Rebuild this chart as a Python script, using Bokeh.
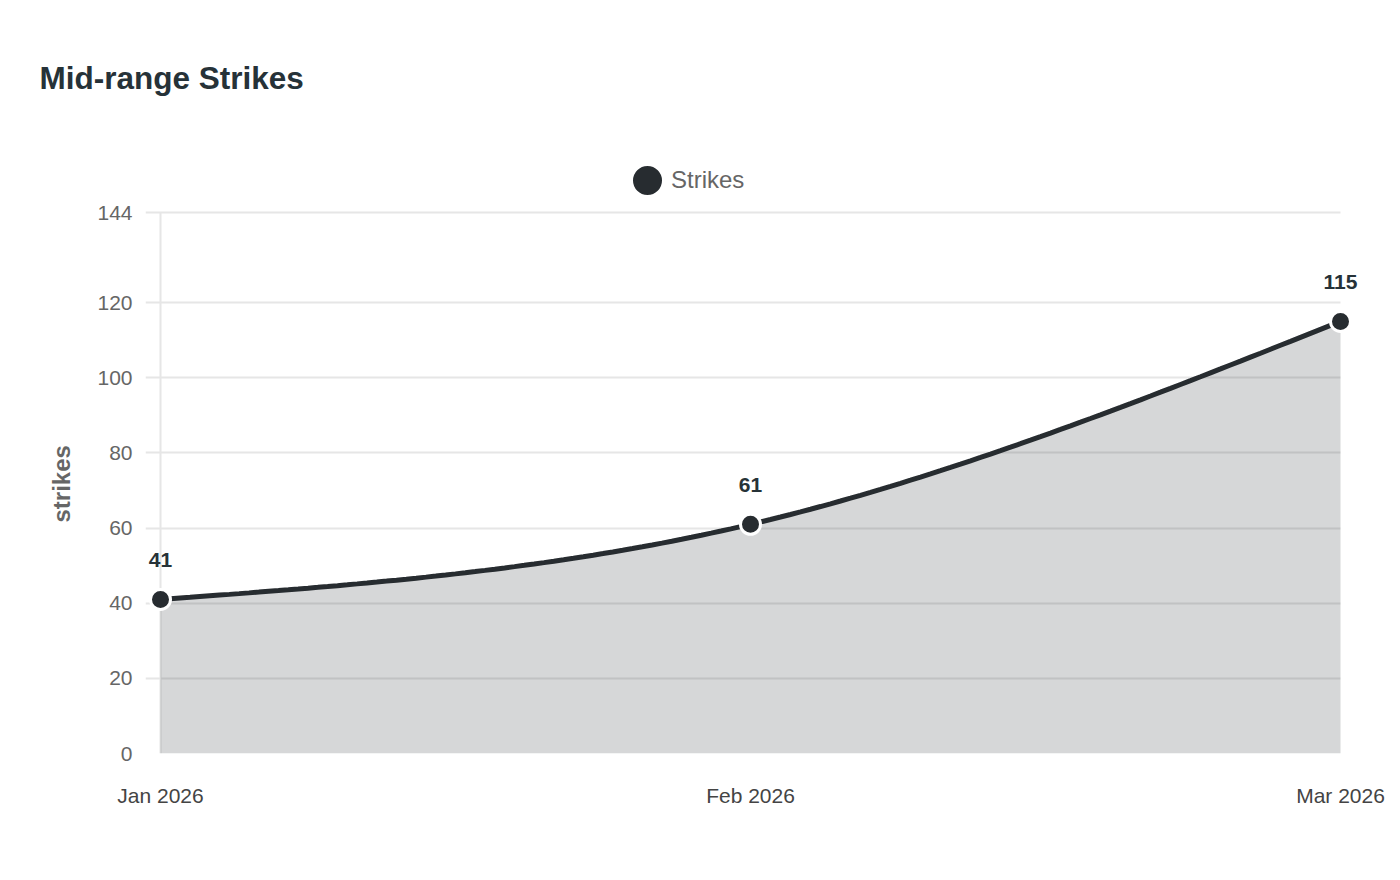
import numpy as np
from bokeh.plotting import figure
from bokeh.models import (ColumnDataSource, LabelSet, Legend, LegendItem,
                          FixedTicker, Range1d, Title)
from bokeh.core.properties import value
from bokeh.embed import file_html
from bokeh.resources import INLINE

# ---- data ----
categories = ["Jan 2026", "Feb 2026", "Mar 2026"]
strikes = [41, 61, 115]
y_ticks = [0, 20, 40, 60, 80, 100, 120, 144]
y_max = 144
y_label = "strikes"
series_name = "Strikes"
chart_title = "Mid-range Strikes"

DARK = "#272c30"
GRID = "#e6e6e6"
FONT = "Liberation Sans"


def monotone_curve(xv, yv, n=60):
    """Monotone cubic (d3 curveMonotoneX) through the data points."""
    xv = np.asarray(xv, float)
    yv = np.asarray(yv, float)
    h = np.diff(xv)
    s = np.diff(yv) / h
    m = np.zeros_like(yv)
    for i in range(1, len(yv) - 1):
        p = (s[i - 1] * h[i] + s[i] * h[i - 1]) / (h[i - 1] + h[i])
        m[i] = (np.sign(s[i - 1]) + np.sign(s[i])) * min(abs(s[i - 1]), abs(s[i]), 0.5 * abs(p))
    m[0] = (3 * s[0] - m[1]) / 2 if len(yv) > 2 else s[0]
    m[-1] = (3 * s[-1] - m[-2]) / 2 if len(yv) > 2 else s[-1]
    xs, ys = [], []
    for i in range(len(h)):
        t = np.linspace(0, 1, n, endpoint=(i == len(h) - 1))
        h00 = 2 * t**3 - 3 * t**2 + 1
        h10 = t**3 - 2 * t**2 + t
        h01 = -2 * t**3 + 3 * t**2
        h11 = t**3 - t**2
        xs.extend(xv[i] + t * h[i])
        ys.extend(h00 * yv[i] + h10 * h[i] * m[i] + h01 * yv[i + 1] + h11 * h[i] * m[i + 1])
    return np.array(xs), np.array(ys)


x_idx = list(range(len(categories)))
n_last = len(categories) - 1
cx, cy = monotone_curve(x_idx, strikes)

# layout in pixels: data area 160..1340 x 212..753; frame padded so that
# edge labels and the legend are not clipped
PX_PER_X = 1180 / n_last
PX_PER_Y = 541 / y_max
FRAME_L, FRAME_R, FRAME_T, FRAME_B = 145, 1370, 130, 753
x_range = Range1d(-(160 - FRAME_L) / PX_PER_X, n_last + (FRAME_R - 1340) / PX_PER_X)
y_range = Range1d(0, y_max + (212 - FRAME_T) / PX_PER_Y)

W, H = 1392, 872
p = figure(width=W, height=H, output_backend="svg", toolbar_location=None,
           x_range=x_range, y_range=y_range,
           min_border_left=FRAME_L, min_border_right=W - FRAME_R,
           min_border_top=FRAME_T, min_border_bottom=H - FRAME_B)
p.outline_line_color = None
p.background_fill_color = "white"
p.border_fill_color = "white"

# title
p.title.text = chart_title
p.title.text_font = FONT
p.title.text_font_size = "31.5px"
p.title.text_font_style = "bold"
p.title.text_color = "#263238"
p.title.align = "left"
p.title.offset = 40 - FRAME_L - 1
p.title.standoff = 69

# area + line
p.varea(x=cx, y1=0, y2=cy, fill_color=DARK, fill_alpha=0.19)
p.line(cx, cy, line_color=DARK, line_width=5)

src = ColumnDataSource(dict(x=x_idx, y=strikes, label=[str(v) for v in strikes]))
# point markers: 20px circles with a white rim (drawn as screen-sized ellipses)
pts = p.ellipse("x", "y", source=src, width=20, height=20,
                width_units="screen", height_units="screen",
                fill_color=DARK, line_color="white", line_width=3)

labels = LabelSet(x="x", y="y", text="label", source=src, y_offset=32,
                  text_align="center", text_baseline="alphabetic",
                  text_font=value(FONT), text_font_size="21px", text_font_style="bold",
                  text_color="#263238")
p.add_layout(labels)

# legend (inside the padded frame, above the data area)
legend = Legend(items=[LegendItem(label=series_name, renderers=[pts])],
                location=(627 - FRAME_L, FRAME_B - 200), orientation="horizontal",
                glyph_width=40, glyph_height=40, label_standoff=4,
                padding=0, margin=0, spacing=0,
                border_line_color=None, background_fill_alpha=0,
                label_text_font=FONT, label_text_font_size="24px",
                label_text_color="#666666", label_text_baseline="middle")
p.add_layout(legend, "center")

# axes
p.xaxis.ticker = FixedTicker(ticks=x_idx)
p.xaxis.major_label_overrides = {i: c for i, c in zip(x_idx, categories)}
p.xaxis.axis_line_color = None
p.xaxis.major_tick_line_color = None
p.xaxis.minor_tick_line_color = None
p.xaxis.major_tick_out = 0
p.xaxis.major_tick_in = 0
p.xaxis.major_label_standoff = 30
p.xaxis.major_label_text_font = FONT
p.xaxis.major_label_text_font_size = "21px"
p.xaxis.major_label_text_color = "#444444"

p.yaxis.ticker = FixedTicker(ticks=y_ticks)
p.yaxis.bounds = (0, y_max)
p.yaxis.axis_line_color = None
p.yaxis.major_tick_line_color = None
p.yaxis.major_tick_out = 0
p.yaxis.major_tick_in = 0
p.yaxis.minor_tick_line_color = None
p.yaxis.major_label_standoff = 13
p.yaxis.major_label_text_font = FONT
p.yaxis.major_label_text_font_size = "21px"
p.yaxis.major_label_text_color = "#666666"

# y-axis title, centred on the 0..144 data area (not the padded frame)
y_title = Title(text=y_label, align="left", offset=231, standoff=40,
                text_font=FONT, text_font_size="24px", text_font_style="bold",
                text_color="#666666")
p.add_layout(y_title, "left")

# horizontal grid lines (they also form the short tick marks left of the axis)
p.ygrid.ticker = FixedTicker(ticks=y_ticks)
p.ygrid.grid_line_color = GRID
p.ygrid.grid_line_width = 2
p.ygrid.cross_bounds = (-(160 - FRAME_L) / PX_PER_X, n_last)
# vertical axis rule at the first category
p.xgrid.ticker = FixedTicker(ticks=[0])
p.xgrid.grid_line_color = GRID
p.xgrid.grid_line_width = 2
p.xgrid.cross_bounds = (0, y_max)

open("out.html", "w").write(file_html(p, INLINE))
